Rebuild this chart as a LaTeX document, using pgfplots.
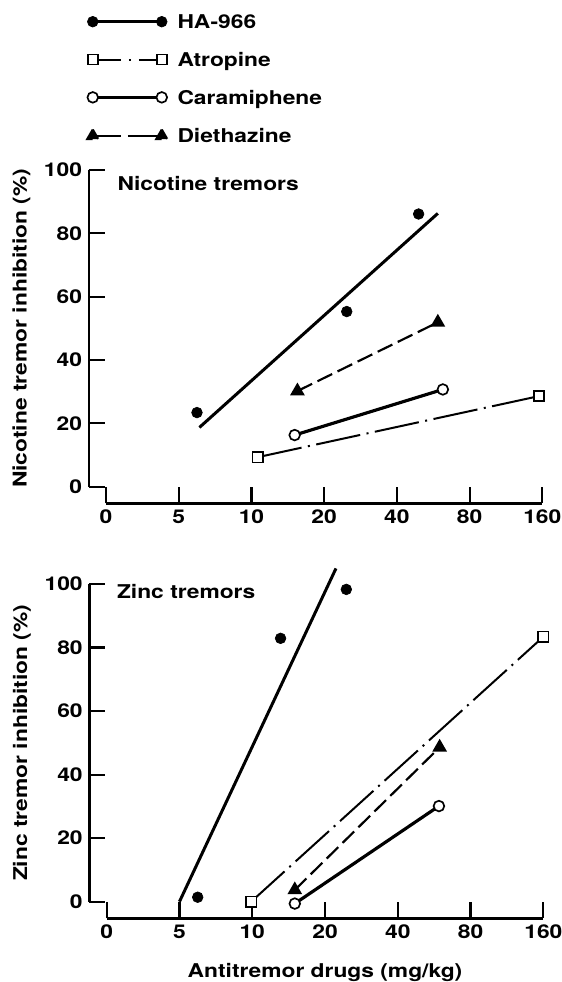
\documentclass[border=0pt]{standalone}
\usepackage{pgfplots}
\pgfplotsset{compat=1.18}
\usepackage{fontspec}
\setmainfont{TeX Gyre Heros}[FakeStretch=1.2]
\newcommand{\lblfont}{\fontsize{11.4}{13.5}\selectfont\bfseries}
\begin{document}
\lblfont
\begin{tikzpicture}
\useasboundingbox (0,0) rectangle (337.2pt,-589.2pt);
\pgfplotsset{
  myaxis/.style={
    scale only axis,
    xmin=2.5, xmax=160, ymin=0, ymax=100,
    axis lines=left,
    axis line style={-, line width=1.4pt},
    axis x line shift=10pt,
    axis y line shift=10.4pt,
    tick align=inside,
    major tick length=9.6pt,
    every tick/.style={line width=1.3pt, black},
    xtick={2.5,5,10,20,40,80,160},
    xticklabels={0,5,10,20,40,80,160},
    minor xtick={},
    ytick={0,20,40,60,80,100},
    /pgf/number format/assume math mode=true,
    ticklabel style={font=\lblfont},
    label style={font=\lblfont},
    clip=false,
  },
  ha/.style={only marks, mark=*, mark size=3.2pt, black},
  haline/.style={no marks, line width=1.8pt, black},
  atr/.style={black, line width=1.2pt, mark=square*, mark size=3.1pt,
    mark options={solid, fill=white, line width=1pt},
    dash pattern=on 27pt off 3.9pt on 1.2pt off 3.9pt},
  car/.style={black, line width=1.9pt, mark=*, mark size=3.2pt,
    mark options={solid, fill=white, line width=1pt}},
  die/.style={black, line width=1.3pt, mark=triangle*, mark size=3.8pt,
    mark options={solid, fill=black},
    dash pattern=on 9.8pt off 3.6pt},
}
% ---------------- top panel ----------------
\begin{semilogxaxis}[myaxis,
  at={(63.6pt,-292.0pt)}, anchor=south west,
  width=261.8pt, height=190.0pt,
  ylabel={Nicotine tremor inhibition (\%)},
  every axis y label/.style={at={(axis description cs:-0.194,0.5)}, rotate=90, anchor=center},
  legend style={at={(axis description cs:-0.0454,1.4894)}, anchor=north west,
    draw=none, fill=none, inner sep=0pt, outer sep=0pt,
    row sep=14.7pt, column sep=5.5pt,
    nodes={inner sep=0pt, text height=8pt, text depth=0pt},
    font=\lblfont},
  legend cell align=left,
]
\addplot[ha, legend image code/.code={
  \draw[black, line width=1.6pt] (0pt,0pt) -- (41.4pt,0pt);
  \fill[black] (0pt,0pt) circle (3.2pt) (41.4pt,0pt) circle (3.2pt);}]
  coordinates {(5.95,23.4) (24.8,55.3) (49.2,86.1)};
\addlegendentry{HA-966}
\addplot[haline, forget plot] coordinates {(6.09,18.7) (59.1,86.3)};
\addplot[atr, legend image code/.code={
  \draw[black, line width=1.2pt, dash pattern=on 16.8pt off 4.8pt on 1.2pt off 4.8pt on 30pt] (0pt,0pt) -- (41.4pt,0pt);
  \draw[black, solid, line width=1pt, fill=white] (-3pt,-3pt) rectangle (3pt,3pt) (38.4pt,-3pt) rectangle (44.4pt,3pt);}]
  coordinates {(10.6,9.3) (155,28.6)};
\addlegendentry{Atropine}
\addplot[car, legend image code/.code={
  \draw[black, line width=1.9pt] (0pt,0pt) -- (41.4pt,0pt);
  \draw[black, line width=1pt, fill=white] (0pt,0pt) circle (3.2pt) (41.4pt,0pt) circle (3.2pt);}]
  coordinates {(15.1,16.3) (62.0,30.7)};
\addlegendentry{Caramiphene}
\addplot[die, legend image code/.code={
  \draw[black, line width=1.4pt, dash pattern=on 16.8pt off 4.2pt on 30pt] (0pt,0pt) -- (41.4pt,0pt);
  \fill[black] (0pt,3.8pt) -- (-3.3pt,-1.9pt) -- (3.3pt,-1.9pt) -- cycle
               (41.4pt,3.8pt) -- (38.1pt,-1.9pt) -- (44.7pt,-1.9pt) -- cycle;}]
  coordinates {(15.5,30.2) (59.1,51.9)};
\addlegendentry{Diethazine}
\node[anchor=west, inner sep=0pt] at (axis description cs:0.026,0.958) {Nicotine tremors};
\end{semilogxaxis}
% ---------------- bottom panel ----------------
\begin{semilogxaxis}[myaxis,
  at={(64.0pt,-541.0pt)}, anchor=south west,
  width=262.0pt, height=190.6pt,
  ylabel={Zinc tremor inhibition (\%)},
  every axis y label/.style={at={(axis description cs:-0.194,0.5)}, rotate=90, anchor=center},
  xlabel={Antitremor drugs (mg/kg)},
  every axis x label/.style={at={(axis description cs:0.5,-0.2244)}, anchor=center},
]
\addplot[ha] coordinates {(5.95,1.4) (13.1,82.9) (24.5,98.3)};
\addplot[haline] coordinates {(5,0) (22.2,104.9)};
\addplot[atr] coordinates {(9.9,0) (160,83.4)};
\addplot[car] coordinates {(15.0,-0.6) (59.2,30.1)};
\addplot[die] coordinates {(15.0,3.7) (59.6,48.6)};
\node[anchor=west, inner sep=0pt] at (axis description cs:0.023,0.975) {Zinc tremors};
\end{semilogxaxis}
\end{tikzpicture}
\end{document}
